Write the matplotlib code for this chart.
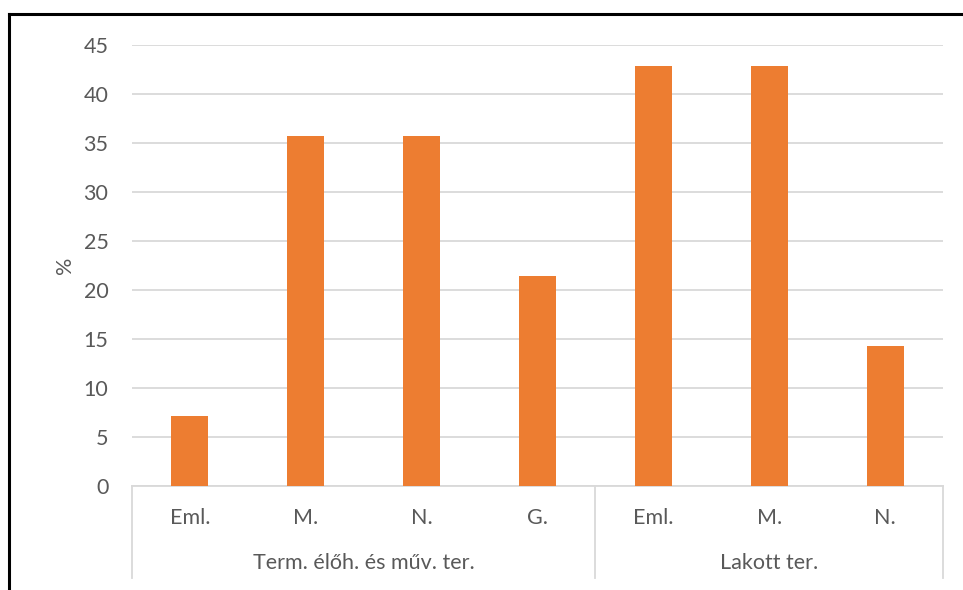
import matplotlib
matplotlib.use("Agg")
import matplotlib.pyplot as plt
from matplotlib.lines import Line2D

categories = ["Eml.", "M.", "N.", "G.", "Eml.", "M.", "N."]
groups = ["Term. élőh. és műv. ter.", "Lakott ter."]
group_sizes = [4, 3]
values = [7.14, 35.71, 35.71, 21.43, 42.86, 42.86, 14.29]
yticks = [0, 5, 10, 15, 20, 25, 30, 35, 40, 45]

plt.rcParams["font.family"] = ["Lato", "DejaVu Sans"]
text_color = "#595959"
grid_color = "#d9d9d9"
bar_color = "#ed7d31"
fs = 15.5

W, H = 963, 590
fig = plt.figure(figsize=(W / 100, H / 100), dpi=100)
x0, x1 = 132, 943
y_top, y_bot = 45, 486
ax = fig.add_axes([x0 / W, 1 - y_bot / H, (x1 - x0) / W, (y_bot - y_top) / H])

n = len(categories)
xs = list(range(n))
ax.bar(xs, values, width=0.32, color=bar_color, zorder=3)
ax.set_xlim(-0.5, n - 0.5)
ax.set_ylim(0, 45)
ax.set_yticks(yticks)
ax.set_yticklabels([str(t) for t in yticks])
ax.tick_params(axis="y", length=0, pad=17, labelsize=fs, labelcolor=text_color)
ax.set_xticks([])
ax.yaxis.grid(True, color=grid_color, linewidth=1.3, zorder=0)
for s in ["top", "right", "left"]:
    ax.spines[s].set_visible(False)
ax.spines["bottom"].set_color(grid_color)
ax.spines["bottom"].set_linewidth(1.3)
ax.set_ylabel("%", color=text_color, fontsize=fs, labelpad=6)

# category labels and group labels below the axis
for i, c in enumerate(categories):
    ax.annotate(c, xy=(i, 0), xycoords="data", xytext=(0, -32),
                textcoords="offset pixels", ha="center", va="center",
                fontsize=fs, color=text_color, annotation_clip=False)

trans = ax.get_xaxis_transform()
start = 0
bounds = [-0.5]
for g, size in zip(groups, group_sizes):
    mid = start + (size - 1) / 2
    ax.annotate(g, xy=(mid, 0), xycoords=trans, xytext=(0, -77),
                textcoords="offset pixels", ha="center", va="center",
                fontsize=fs, color=text_color, annotation_clip=False)
    start += size
    bounds.append(start - 0.5)

sep_len = (578 - y_bot) / (y_bot - y_top)
for b in bounds:
    ax.add_line(Line2D([b, b], [0, -sep_len], transform=trans,
                       color=grid_color, linewidth=1.3, clip_on=False))

# outer frame
fig.add_artist(Line2D([9 / W, 9 / W], [0, 1 - 14 / H], transform=fig.transFigure,
                      color="black", linewidth=2.2))
fig.add_artist(Line2D([9 / W, 1], [1 - 14 / H, 1 - 14 / H], transform=fig.transFigure,
                      color="black", linewidth=2.2))

fig.savefig("out.png", dpi=100)
